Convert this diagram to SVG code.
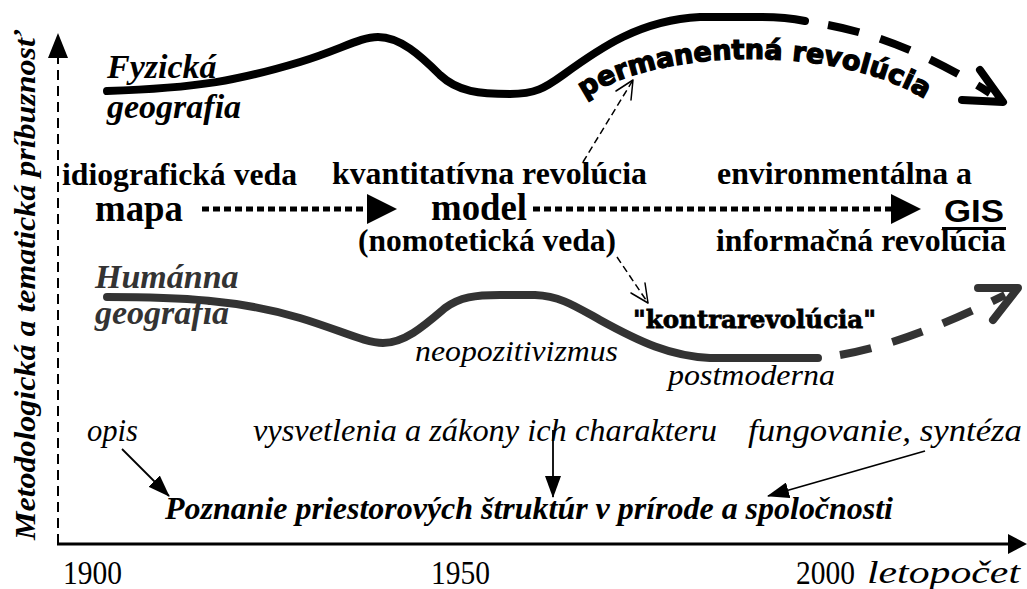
<svg xmlns="http://www.w3.org/2000/svg" width="1027" height="589" viewBox="0 0 1027 589">
<style>
.serif{font-family:"Liberation Serif","Times New Roman",serif}
.b{font-weight:bold}
.i{font-style:italic}
.t{fill:#000}
.g{fill:#333}
.curve{fill:none;stroke-linecap:round;stroke-linejoin:round;stroke-width:8}
.blk{stroke:#000}
.gry{stroke:#333}
.dash{stroke-dasharray:32 22;stroke-linecap:butt}
.dot{fill:none;stroke:#000;stroke-width:5;stroke-dasharray:7 4}
.thin{fill:none;stroke:#000;stroke-width:1.5;stroke-dasharray:7 4}
.head{fill:none;stroke:#000;stroke-width:1.5;stroke-linecap:round;stroke-linejoin:round}
.solid{fill:none;stroke:#000;stroke-width:1.8}
.fillblk{fill:#000}
</style>
<defs>
<marker id="tri" viewBox="0 0 22 16" refX="21" refY="8" markerWidth="22" markerHeight="16" markerUnits="userSpaceOnUse" orient="auto">
<path d="M0,0 L22,8 L0,16 z" fill="#000"/>
</marker>
<path id="arc" d="M 572,108 C 640,45 850,40 938,108"/>
</defs>
<rect width="1027" height="589" fill="#fff"/>

<g id="axes">
<line x1="58" y1="544" x2="58" y2="57" stroke="#000" stroke-width="2" stroke-dasharray="10 6"/>
<polygon points="48,58 68,58 58,33" class="fillblk"/>
<line x1="57" y1="544" x2="1010" y2="544" stroke="#000" stroke-width="3"/>
<polygon points="1008,534 1027,544 1008,554" class="fillblk"/>
<text class="serif b i t" font-size="30" transform="translate(35,285) rotate(-90)" text-anchor="middle" textLength="510" lengthAdjust="spacingAndGlyphs">Metodologická a tematická príbuznosť</text>
<text class="serif t" x="63" y="584" font-size="33" textLength="59" lengthAdjust="spacingAndGlyphs">1900</text>
<text class="serif t" x="431" y="584" font-size="33" textLength="59" lengthAdjust="spacingAndGlyphs">1950</text>
<text class="serif t" x="796" y="584" font-size="33" textLength="59" lengthAdjust="spacingAndGlyphs">2000</text>
<text class="serif i t" x="867" y="583" font-size="31" textLength="153" lengthAdjust="spacingAndGlyphs">letopočet</text>
</g>

<g id="fyzicka">
<text class="serif b i t" x="107" y="78" font-size="34">Fyzická</text>
<text class="serif b i t" x="107" y="118" font-size="34">geografia</text>
</g>

<g id="humanna">
<text class="serif b i g" x="95" y="288" font-size="34">Humánna</text>
<text class="serif b i g" x="95" y="324" font-size="34">geografia</text>
</g>

<g id="permanentna">
<text font-family="'DejaVu Sans','Liberation Sans',sans-serif" font-weight="bold" font-size="27" fill="#000" stroke="#000" stroke-width="1.3"><textPath href="#arc" startOffset="50%" text-anchor="middle">" permanentná revolúcia "</textPath></text>
</g>

<g id="kontrarevolucia">
<text font-family="'DejaVu Serif','Liberation Serif',serif" font-weight="bold" font-size="25" x="633" y="328" fill="#000" stroke="#000" stroke-width="0.8" textLength="243" lengthAdjust="spacingAndGlyphs">"kontrarevolúcia"</text>
</g>

<g id="mapa">
<text class="serif b t" x="62" y="185" font-size="32" textLength="235" lengthAdjust="spacingAndGlyphs">idiografická veda</text>
<text class="serif b t" x="95" y="221" font-size="37" textLength="88" lengthAdjust="spacingAndGlyphs">mapa</text>
</g>

<g id="model">
<text class="serif b t" x="332" y="184" font-size="32" textLength="315" lengthAdjust="spacingAndGlyphs">kvantitatívna revolúcia</text>
<text class="serif b t" x="431" y="220" font-size="37" textLength="96" lengthAdjust="spacingAndGlyphs">model</text>
<text class="serif b t" x="358" y="251" font-size="32" textLength="258" lengthAdjust="spacingAndGlyphs">(nomotetická veda)</text>
</g>

<g id="gis">
<text class="serif b t" x="717" y="184" font-size="32" textLength="255" lengthAdjust="spacingAndGlyphs">environmentálna a</text>
<text font-family="'Liberation Sans',Arial,sans-serif" font-weight="bold" x="944" y="222" font-size="32" fill="#000" textLength="60" lengthAdjust="spacingAndGlyphs">GIS</text>
<rect x="942" y="227" width="64" height="3" fill="#000"/>
<text class="serif b t" x="716" y="251" font-size="32" textLength="290" lengthAdjust="spacingAndGlyphs">informačná revolúcia</text>
</g>

<g id="labels">
<text class="serif i t" x="415" y="361" font-size="29" textLength="203" lengthAdjust="spacingAndGlyphs">neopozitivizmus</text>
<text class="serif i t" x="668" y="385" font-size="29" textLength="167" lengthAdjust="spacingAndGlyphs">postmoderna</text>
<text class="serif i t" x="87" y="441" font-size="31" textLength="51" lengthAdjust="spacingAndGlyphs">opis</text>
<text class="serif i t" x="253" y="441" font-size="31" textLength="464" lengthAdjust="spacingAndGlyphs">vysvetlenia a zákony ich charakteru</text>
<text class="serif i t" x="748" y="441" font-size="31" textLength="274" lengthAdjust="spacingAndGlyphs">fungovanie, syntéza</text>
</g>

<g id="poznanie">
<text class="serif b i t" x="165" y="519" font-size="32" textLength="728" lengthAdjust="spacingAndGlyphs">Poznanie priestorových štruktúr v prírode a spoločnosti</text>
</g>

<g id="connectors">
<path class="curve blk" d="M107,91 C200,88 240,80 300,62 C340,50 360,37 378,37 C400,37 420,55 440,75 C458,92 480,94 510,94 C535,94 545,88 563,75 C600,48 640,20 700,17 L760,17 C780,17 795,19 805,21"/>
<path class="curve blk dash" d="M828,25 C875,34 925,52 990,93"/>
<path class="curve blk" d="M980,70 L1003,102 L962,100"/>

<path class="curve gry" d="M107,297 C180,297 240,300 300,318 C340,330 365,343 383,343 C405,343 425,325 445,308 C460,297 475,295 500,295 L535,295 C560,296 575,306 600,320 C640,342 670,356 710,358 L818,358"/>
<path class="curve gry dash" d="M840,355 C880,348 930,332 1005,295"/>
<path class="curve gry" d="M978,288 L1018,288 L993,320"/>

<line class="dot" x1="202" y1="209" x2="367" y2="209"/>
<polygon class="fillblk" points="367,194 397,209 367,224"/>
<line class="dot" x1="533" y1="209" x2="891" y2="209"/>
<polygon class="fillblk" points="891,194 921,209 891,224"/>

<line class="thin" x1="583" y1="162" x2="633" y2="80"/>
<path class="head" d="M616,91 L633,80 L631,100"/>
<line class="thin" x1="617" y1="257" x2="648" y2="303"/>
<path class="head" d="M631,293 L648,303 L645,283"/>

<line class="solid" x1="122" y1="449" x2="169" y2="496" marker-end="url(#tri)"/>
<line class="solid" x1="553" y1="430" x2="553" y2="497" marker-end="url(#tri)"/>
<line class="solid" x1="925" y1="451" x2="768" y2="496" marker-end="url(#tri)"/>
</g>
</svg>
